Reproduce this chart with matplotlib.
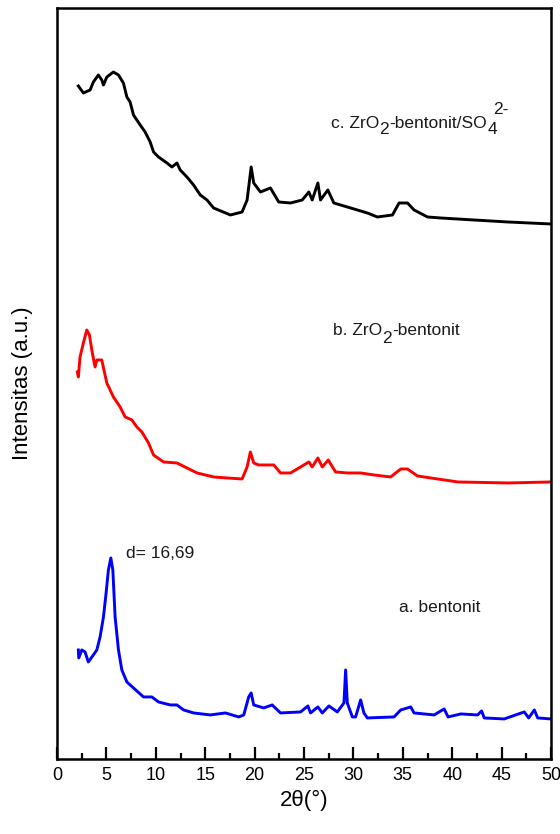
import matplotlib
matplotlib.use("Agg")
import matplotlib.pyplot as plt
from matplotlib.ticker import MultipleLocator

plt.rcParams['font.family'] = ['Liberation Sans', 'DejaVu Sans']

# c. ZrO2-bentonit/SO4 2-  (black)
c_x = [2.16, 2.67, 3.35, 3.68, 4.19, 4.53, 4.70, 5.04, 5.71, 6.22, 6.72, 7.07, 7.40, 7.74,
       8.42, 8.92, 9.43, 9.77, 10.27, 11.13, 11.63, 12.14, 12.47, 13.15, 13.82, 14.50,
       15.18, 15.85, 17.55, 18.73, 19.24, 19.65, 19.91, 20.59, 21.60, 22.44, 23.63,
       24.82, 25.49, 25.83, 26.40, 26.67, 27.41, 28.02, 29.72, 31.41, 32.42, 33.95,
       34.62, 35.47, 36.14, 37.50, 38.84, 42.19, 45.64, 50.0]
c_y = [673, 666, 669, 677, 684, 679, 674, 682, 687, 684, 676, 662, 657, 644,
       634, 627, 617, 607, 602, 596, 592, 596, 589, 582, 574, 564,
       559, 551, 544, 547, 559, 592, 576, 567, 571, 557, 556,
       559, 567, 559, 576, 559, 569, 556, 551, 546, 542, 544,
       556, 556, 549, 542, 541, 539, 537, 535]

# b. ZrO2-bentonit (red)
b_x = [2.06, 2.16, 2.33, 2.67, 3.01, 3.28, 3.52, 3.85, 4.03, 4.53, 5.04, 5.71, 6.39,
       6.90, 7.58, 8.08, 8.59, 9.26, 9.77, 10.78, 12.14, 13.15, 14.17, 15.85, 17.21,
       18.73, 19.24, 19.57, 19.91, 20.42, 21.94, 22.62, 23.63, 24.65, 25.49, 25.83,
       26.40, 26.85, 27.45, 28.19, 29.38, 30.73, 32.08, 33.77, 34.79, 35.47, 36.48,
       37.83, 40.57, 45.64, 50.0]
b_y = [387, 382, 402, 416, 429, 424, 409, 392, 399, 399, 376, 362, 352,
       342, 339, 332, 327, 316, 304, 297, 296, 291, 286, 282, 281,
       280, 292, 307, 296, 294, 294, 286, 286, 292, 297, 292,
       301, 292, 299, 287, 286, 286, 284, 282, 290, 290, 283,
       281, 277, 276, 277]

# a. bentonit (blue)
a_x = [2.16, 2.20, 2.51, 2.84, 3.17, 3.68, 4.03, 4.36, 4.70, 4.97, 5.20, 5.45, 5.65,
       5.88, 6.22, 6.56, 7.07, 7.74, 8.75, 9.60, 10.27, 11.46, 12.14, 12.81, 13.82,
       15.52, 17.04, 18.39, 18.90, 19.40, 19.65, 19.91, 20.92, 21.78, 22.62, 24.65,
       25.39, 25.66, 26.40, 26.85, 27.52, 28.37, 29.04, 29.21, 29.38, 29.89, 30.22,
       30.73, 31.06, 31.41, 34.11, 34.79, 35.80, 36.14, 38.17, 39.18, 39.58, 40.87,
       42.57, 42.97, 43.24, 45.26, 47.29, 47.74, 48.31, 48.65, 50.0]
a_y = [109, 101, 109, 107, 97, 104, 109, 122, 142, 166, 189, 201, 189,
       142, 109, 89, 77, 71, 62, 62, 57, 54, 54, 49, 46,
       44, 46, 42, 44, 62, 66, 54, 51, 54, 46, 47,
       53, 46, 52, 46, 53, 47, 56, 89, 56, 42, 42,
       59, 46, 41, 42, 49, 52, 46, 44, 50, 42, 45,
       44, 48, 41, 40, 47, 41, 49, 41, 40]

c_parts = ["c. ZrO", "2", "-bentonit/SO", "4", "2-"]
b_parts = ["b. ZrO", "2", "-bentonit"]
a_label = "a. bentonit"
d_label = "d= 16,69"
xticks = [0, 5, 10, 15, 20, 25, 30, 35, 40, 45, 50]

fig = plt.figure(figsize=(5.6, 8.34), dpi=100)
ax = fig.add_axes([0.1018, 0.09, 0.8822, 0.9004])

lw = 2.1
ax.plot(c_x, c_y, color='black', lw=lw)
ax.plot(b_x, b_y, color='#ff0000', lw=lw)
ax.plot(a_x, a_y, color='#0000ff', lw=lw)

fs = 12.5
tc = '#1a1a1a'


def chain(prev, s, dx, dy, ref=(1, 0)):
    return ax.annotate(s, xy=ref, xycoords=prev, xytext=(dx, dy),
                       textcoords='offset points', fontsize=fs, color=tc,
                       ha='left', va='bottom')


t = ax.text(27.7, 631, c_parts[0], fontsize=fs, color=tc, ha='left', va='baseline')
t2 = chain(t, c_parts[1], 0.3, -4)
t3 = chain(t2, c_parts[2], 0, 4)
t4 = chain(t3, c_parts[3], 1.0, -4)
chain(t4, c_parts[4], 3.5, 14, ref=(0, 0))

t = ax.text(27.9, 424, b_parts[0], fontsize=fs, color=tc, ha='left', va='baseline')
t2 = chain(t, b_parts[1], 0.3, -6)
chain(t2, b_parts[2], 0, 6)

ax.text(34.6, 147, a_label, fontsize=fs, color=tc, ha='left', va='baseline')
ax.text(7.0, 201, d_label, fontsize=fs, color=tc, ha='left', va='baseline')

ax.set_xlim(0, 50)
ax.set_ylim(0, 751)
ax.set_xticks(xticks)
ax.xaxis.set_minor_locator(MultipleLocator(2.5))
ax.set_yticks([])
ax.tick_params(axis='x', which='major', direction='in', length=9, width=1.6,
               labelsize=13, pad=6, top=False)
ax.tick_params(axis='x', which='minor', direction='in', length=4, width=1.6, top=False)
for s in ax.spines.values():
    s.set_linewidth(1.8)

ax.set_xlabel("2θ(°)", fontsize=16, labelpad=4)
ax.set_ylabel("Intensitas (a.u.)", fontsize=16, labelpad=17)

fig.savefig("out.png", dpi=100)
